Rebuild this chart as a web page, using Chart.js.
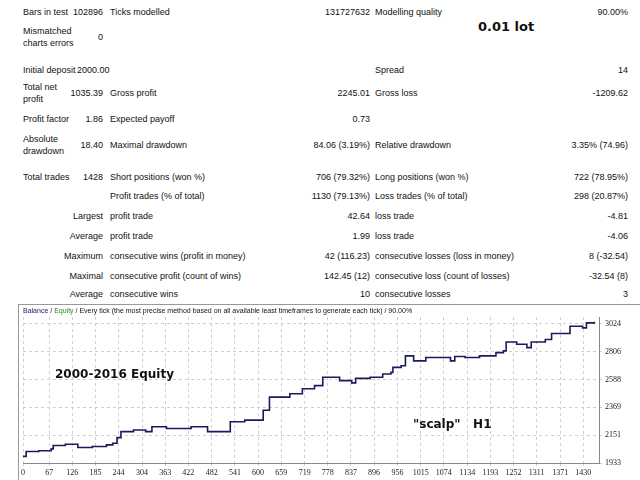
<!DOCTYPE html>
<html>
<head>
<meta charset="utf-8">
<script src="https://cdn.jsdelivr.net/npm/chart.js@4"></script>
<style>
  body { margin: 0; width: 640px; height: 480px; background: #fff; position: relative; overflow: hidden;
         font-family: "Liberation Sans", sans-serif; font-size: 9px; color: #111; }
  .t { position: absolute; white-space: nowrap; line-height: 12px; }
  .r { text-align: right; }
  #box { position: absolute; left: 18px; top: 304px; width: 621px; height: 175px; border: 1px solid #999; }
  .note { position: absolute; font-family: "Comic Sans MS", "DejaVu Sans", sans-serif; font-weight: bold; font-size: 12px; color: #111; }
</style>
</head>
<body>
<div id="report"></div>
<div class="note" style="left:478px;top:19px;font-size:13px">0.01 lot</div>
<div id="box">
  <canvas id="equity" width="621" height="175"></canvas>
  <div class="t" style="left:4px;top:1px;font-size:7px;line-height:10px">
    <span style="color:#1a1a5e">Balance</span> / <span style="color:#2a8a2a">Equity</span> / Every tick (the most precise method based on all available least timeframes to generate each tick) / 90.00%
  </div>
  <div class="note" style="left:36px;top:62px">2000-2016 Equity</div>
  <div class="note" style="left:394px;top:112px">"scalp"&nbsp;&nbsp;&nbsp;H1</div>
</div>
<script>
// report rows: [y, label, value, name2, value2, name3, value3]
const rows = [
  [12, 'Bars in test', '102896', 'Ticks modelled', '131727632', 'Modelling quality', '90.00%'],
  [37, 'Mismatched<br>charts errors', '0', '', '', '', ''],
  [70, 'Initial deposit', '', '', '', 'Spread', '14'],
  [93, 'Total net<br>profit', '1035.39', 'Gross profit', '2245.01', 'Gross loss', '-1209.62'],
  [119, 'Profit factor', '1.86', 'Expected payoff', '0.73', '', ''],
  [145, 'Absolute<br>drawdown', '18.40', 'Maximal drawdown', '84.06 (3.19%)', 'Relative drawdown', '3.35% (74.96)'],
  [177, 'Total trades', '1428', 'Short positions (won %)', '706 (79.32%)', 'Long positions (won %)', '722 (78.95%)'],
  [196, '', '', 'Profit trades (% of total)', '1130 (79.13%)', 'Loss trades (% of total)', '298 (20.87%)'],
  [216, '', 'Largest', 'profit trade', '42.64', 'loss trade', '-4.81'],
  [236, '', 'Average', 'profit trade', '1.99', 'loss trade', '-4.06'],
  [256, '', 'Maximum', 'consecutive wins (profit in money)', '42 (116.23)', 'consecutive losses (loss in money)', '8 (-32.54)'],
  [276, '', 'Maximal', 'consecutive profit (count of wins)', '142.45 (12)', 'consecutive loss (count of losses)', '-32.54 (8)'],
  [294, '', 'Average', 'consecutive wins', '10', 'consecutive losses', '3']
];

const trades = [0, 8, 40, 72, 77, 108, 140, 177, 213, 229, 240, 250, 282, 313, 329, 366, 398, 429, 471, 497,
  529, 566, 603, 613, 629, 660, 681, 702, 713, 744, 765, 787, 808, 839, 849, 886, 918, 939, 944, 965,
  976, 997, 1028, 1060, 1091, 1102, 1128, 1165, 1197, 1207, 1226, 1233, 1260, 1286, 1297, 1333, 1349, 1386, 1396, 1428, 1438, 1458];
const equity = [1985, 2023, 2029, 2044, 2070, 2080, 2054, 2062, 2075, 2088, 2132, 2179, 2192, 2179, 2217, 2204, 2204, 2217, 2179, 2179,
  2256, 2269, 2269, 2347, 2450, 2450, 2476, 2476, 2515, 2540, 2605, 2605, 2579, 2561, 2597, 2605, 2631, 2644, 2683, 2696,
  2773, 2734, 2760, 2760, 2734, 2768, 2760, 2773, 2773, 2799, 2812, 2882, 2864, 2838, 2882, 2902, 2949, 2949, 3006, 2993, 3032, 3040];
const xTicks = [0, 67, 126, 185, 244, 304, 363, 422, 482, 541, 600, 659, 719, 778, 837, 896, 956, 1015, 1074, 1134, 1193, 1252, 1311, 1371, 1430];
const yTicks = [1933, 2151, 2369, 2588, 2806, 3024];

let html = '';
rows.forEach(r => {
  const y = r[0] - 6;
  const two = r[1].indexOf('<br>') >= 0;
  if (r[1]) html += `<div class="t" style="left:23px;top:${two ? y - 6 : y}px">${r[1]}</div>`;
  if (r[2]) html += `<div class="t r" style="left:40px;width:63px;top:${y}px">${r[2]}</div>`;
  if (r[3]) html += `<div class="t" style="left:110px;top:${y}px">${r[3]}</div>`;
  if (r[4]) html += `<div class="t r" style="left:200px;width:170px;top:${y}px">${r[4]}</div>`;
  if (r[5]) html += `<div class="t" style="left:375px;top:${y}px">${r[5]}</div>`;
  if (r[6]) html += `<div class="t r" style="left:450px;width:178px;top:${y}px">${r[6]}</div>`;
});
html += '<div class="t" style="left:77px;top:64px">2000.00</div>';
document.getElementById('report').innerHTML = html;

const tickFont = { family: 'Liberation Sans Narrow', size: 8 };
new Chart(document.getElementById('equity'), {
  type: 'line',
  data: {
    datasets: [{
      data: trades.map((t, i) => ({ x: t, y: equity[i] })),
      borderColor: '#1a1a5e',
      borderWidth: 1.6,
      stepped: true,
      pointRadius: 0,
      fill: false
    }]
  },
  options: {
    responsive: false,
    animation: false,
    layout: { padding: { left: 2, top: 12, right: 0, bottom: 0 } },
    plugins: { legend: { display: false }, tooltip: { enabled: false } },
    scales: {
      x: {
        type: 'linear', min: 0, max: 1470,
        afterBuildTicks: s => { s.ticks = xTicks.map(v => ({ value: v })); },
        afterFit: s => { s.height = 17; },
        grid: { color: '#cfcfcf', tickLength: 3 },
        border: { dash: [3, 3], color: '#888' },
        ticks: { font: tickFont, color: '#222', maxRotation: 0, autoSkip: false, padding: 2, callback: v => String(v) }
      },
      y: {
        position: 'right', min: 1933, max: 3078,
        afterBuildTicks: s => { s.ticks = yTicks.map(v => ({ value: v })); },
        afterFit: s => { s.width = 41; },
        grid: { color: '#cfcfcf', tickLength: 3 },
        border: { dash: [3, 3], color: '#888' },
        ticks: { font: tickFont, color: '#222', padding: 3, callback: v => String(v) }
      }
    }
  }
});
</script>
</body>
</html>
